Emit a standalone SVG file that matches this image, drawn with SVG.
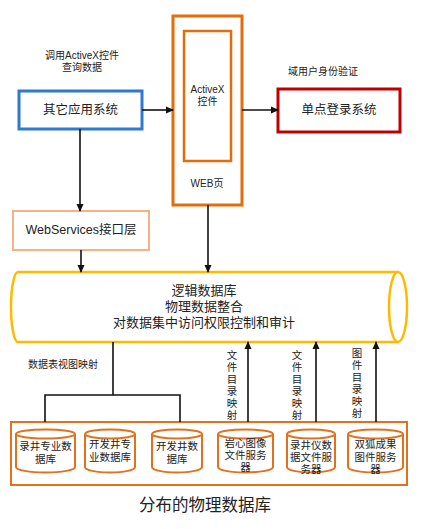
<svg xmlns="http://www.w3.org/2000/svg" width="446" height="529" viewBox="0 0 446 529">
<defs>
<marker id="arr" markerWidth="8" markerHeight="8" refX="7" refY="4" orient="auto" markerUnits="userSpaceOnUse">
<path d="M0,0.5 L8,4 L0,7.5 Z" fill="#111"/>
</marker>
<style>
text{font-family:"Liberation Sans","Noto Sans CJK SC",sans-serif;fill:#222;text-anchor:middle;dominant-baseline:central}
.s10{font-size:10px}
.s11{font-size:10.5px}
.s12{font-size:12.5px}
.s13{font-size:13px}
.s16{font-size:16.5px}
.conn{stroke:#111;stroke-width:1.6;fill:none}
.db{fill:#fff;stroke:#E2711D;stroke-width:2}
</style>
</defs>
<rect width="446" height="529" fill="#fff"/>

<g id="web-page">
<rect x="173" y="16" width="69" height="189" fill="#fff" stroke="#E46C0A" stroke-width="3"/>
<text class="s10" x="207" y="183">WEB页</text>
</g>
<g id="activex">
<rect x="184" y="31" width="47" height="130" fill="#fff" stroke="#E46C0A" stroke-width="2.5"/>
<text class="s10" x="207.5" y="89">ActiveX<tspan x="207.5" dy="12">控件</tspan></text>
</g>
<g id="other-app">
<rect x="19" y="91" width="123" height="38" fill="#fff" stroke="#2F78D4" stroke-width="3"/>
<text class="s12" x="80.5" y="110">其它应用系统</text>
</g>
<g id="sso">
<rect x="278" y="89" width="122" height="43" fill="#fff" stroke="#C00000" stroke-width="3"/>
<text class="s12" x="339" y="110">单点登录系统</text>
</g>
<g id="webservices">
<rect x="13" y="211" width="136" height="39" fill="#fff" stroke="#F4B183" stroke-width="2"/>
<text class="s12" x="81" y="230">WebServices接口层</text>
</g>
<g id="logical-db">
<path d="M18,272 H398 M398,342 H18 A7,35 0 0 1 18,272" fill="#fff" stroke="#FFBA00" stroke-width="2.5"/>
<ellipse cx="398" cy="307" rx="9" ry="35" fill="#fff" stroke="#FFBA00" stroke-width="2.5"/>
<text class="s13" x="204" y="290">逻辑数据库<tspan x="204" dy="16">物理数据整合</tspan><tspan x="204" dy="16">对数据集中访问权限控制和审计</tspan></text>
</g>
<g id="physical-db">
<rect x="11" y="422" width="396" height="63" fill="#fff" stroke="#E2711D" stroke-width="2"/>
<text class="s16" x="205" y="505">分布的物理数据库</text>
</g>
<g id="db1">
<path class="db" d="M16,434 A29.5,4.5 0 0 1 75,434 V467 A29.5,5.5 0 0 1 16,467 Z"/>
<path class="db" d="M16,434 A29.5,4.5 0 0 0 75,434"/>
<text class="s11" x="45.5" y="446">录井专业数<tspan x="45.5" dy="13">据库</tspan></text>
</g>
<g id="db2">
<path class="db" d="M85,434 A25,4.5 0 0 1 135,434 V467 A25,5.5 0 0 1 85,467 Z"/>
<path class="db" d="M85,434 A25,4.5 0 0 0 135,434"/>
<text class="s11" x="110" y="444">开发井专<tspan x="110" dy="13">业数据库</tspan></text>
</g>
<g id="db3">
<path class="db" d="M152,434 A25,4.5 0 0 1 202,434 V467 A25,5.5 0 0 1 152,467 Z"/>
<path class="db" d="M152,434 A25,4.5 0 0 0 202,434"/>
<text class="s11" x="177" y="446">开发井数<tspan x="177" dy="13">据库</tspan></text>
</g>
<g id="db4">
<path class="db" d="M218,434 A27.5,4.5 0 0 1 273,434 V467 A27.5,5.5 0 0 1 218,467 Z"/>
<path class="db" d="M218,434 A27.5,4.5 0 0 0 273,434"/>
<text class="s11" x="245.5" y="443">岩心图像<tspan x="245.5" dy="12">文件服务</tspan><tspan x="245.5" dy="12">器</tspan></text>
</g>
<g id="db5">
<path class="db" d="M287,434 A24,4.5 0 0 1 335,434 V467 A24,5.5 0 0 1 287,467 Z"/>
<path class="db" d="M287,434 A24,4.5 0 0 0 335,434"/>
<text class="s11" x="311" y="445">录井仪数<tspan x="311" dy="12">据文件服</tspan><tspan x="311" dy="12">务器</tspan></text>
</g>
<g id="db6">
<path class="db" d="M348,434 A27.5,4.5 0 0 1 403,434 V467 A27.5,5.5 0 0 1 348,467 Z"/>
<path class="db" d="M348,434 A27.5,4.5 0 0 0 403,434"/>
<text class="s11" x="375.5" y="444">双狐成果<tspan x="375.5" dy="12.5">图件服务</tspan><tspan x="375.5" dy="12.5">器</tspan></text>
</g>

<g id="connectors">
<line class="conn" x1="142" y1="110" x2="173" y2="110" marker-end="url(#arr)"/>
<line class="conn" x1="242" y1="110" x2="278" y2="110" marker-end="url(#arr)"/>
<line class="conn" x1="80" y1="129" x2="80" y2="211" marker-end="url(#arr)"/>
<line class="conn" x1="81" y1="250" x2="81" y2="272" marker-end="url(#arr)"/>
<line class="conn" x1="208" y1="205" x2="208" y2="272" marker-end="url(#arr)"/>
<path class="conn" d="M113,342 V395 M45,422 V395 H180 V422"/>
<line class="conn" x1="248" y1="422" x2="248" y2="342" marker-end="url(#arr)"/>
<line class="conn" x1="316" y1="422" x2="316" y2="342" marker-end="url(#arr)"/>
<line class="conn" x1="376" y1="422" x2="376" y2="342" marker-end="url(#arr)"/>
</g>

<g id="labels">
<text class="s10" x="82" y="55">调用ActiveX控件<tspan x="82" dy="12">查询数据</tspan></text>
<text class="s10" x="323" y="71">域用户身份验证</text>
<text class="s10" x="63" y="364">数据表视图映射</text>
<text class="s11" x="232" y="355">文<tspan x="232" dy="12">件</tspan><tspan x="232" dy="12">目</tspan><tspan x="232" dy="12">录</tspan><tspan x="232" dy="12">映</tspan><tspan x="232" dy="12">射</tspan></text>
<text class="s11" x="297" y="355">文<tspan x="297" dy="12">件</tspan><tspan x="297" dy="12">目</tspan><tspan x="297" dy="12">录</tspan><tspan x="297" dy="12">映</tspan><tspan x="297" dy="12">射</tspan></text>
<text class="s11" x="357" y="353">图<tspan x="357" dy="12">件</tspan><tspan x="357" dy="12">目</tspan><tspan x="357" dy="12">录</tspan><tspan x="357" dy="12">映</tspan><tspan x="357" dy="12">射</tspan></text>
</g>
</svg>
